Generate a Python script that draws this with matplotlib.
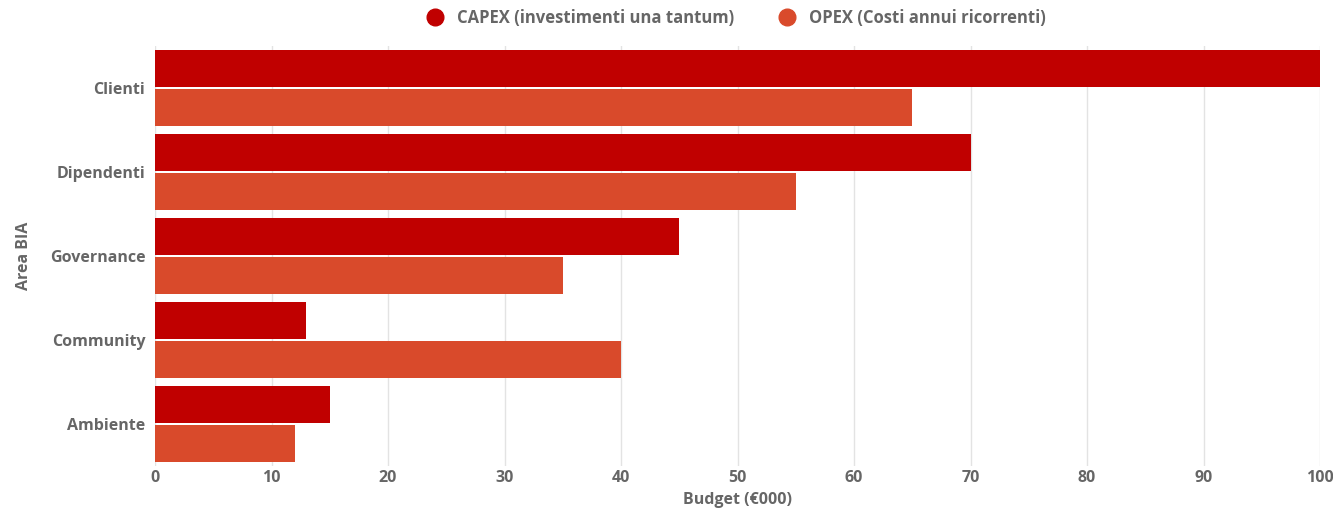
import matplotlib
matplotlib.use("Agg")
import matplotlib.pyplot as plt
from matplotlib.lines import Line2D
from matplotlib.transforms import ScaledTranslation
import numpy as np

categories = ["Clienti", "Dipendenti", "Governance", "Community", "Ambiente"]
capex = [100, 70, 45, 13, 15]
opex = [65, 55, 35, 40, 12]
series_names = ["CAPEX (investimenti una tantum)", "OPEX (Costi annui ricorrenti)"]
colors = ["#C00000", "#D94A2B"]
xticks = [0, 10, 20, 30, 40, 50, 60, 70, 80, 90, 100]

plt.rcParams['font.family'] = ['Open Sans', 'DejaVu Sans']
text_color = "#666666"

W, H = 1333, 512
fig = plt.figure(figsize=(W / 100, H / 100), dpi=100)
ax = fig.add_axes([155 / W, (H - 466) / H, (1320 - 155) / W, (466 - 46) / H])

y = np.arange(len(categories))
h = 0.44
off = 0.232
ax.barh(y - off, capex, height=h, color=colors[0], zorder=3)
ax.barh(y + off, opex, height=h, color=colors[1], zorder=3)

ax.set_ylim(len(categories) - 0.5, -0.5)
ax.set_xlim(0, 100)
ax.set_yticks(y)
ax.set_yticklabels(categories, fontsize=11.5, fontweight='bold', color=text_color)
shift = ScaledTranslation(0, 2 / 100, fig.dpi_scale_trans)
for lbl in ax.get_yticklabels():
    lbl.set_transform(lbl.get_transform() + shift)
ax.set_xticks(xticks)
ax.set_xticklabels([str(t) for t in xticks], fontsize=11.5, fontweight='bold', color=text_color)
ax.tick_params(axis='both', length=0)
ax.tick_params(axis='y', pad=7)
ax.tick_params(axis='x', pad=3)
ax.grid(axis='x', color='#e3e3e3', linewidth=1, zorder=0)
for s in ax.spines.values():
    s.set_visible(False)

ax.set_xlabel("Budget (€000)", fontsize=11.5, fontweight='bold', color=text_color, labelpad=4)
ax.set_ylabel("Area BIA", fontsize=11.5, fontweight='bold', color=text_color, labelpad=13)

handles = [Line2D([0], [0], marker='o', linestyle='', markersize=12, markerfacecolor=c, markeredgecolor=c) for c in colors]
fig.legend(handles, series_names, loc='center', bbox_to_anchor=(0.549, 1 - 18 / H), ncol=2, frameon=False,
           prop={'size': 12, 'weight': 'bold'}, labelcolor=text_color, handletextpad=0.3, columnspacing=2.2)

fig.savefig("out.png", dpi=100)
